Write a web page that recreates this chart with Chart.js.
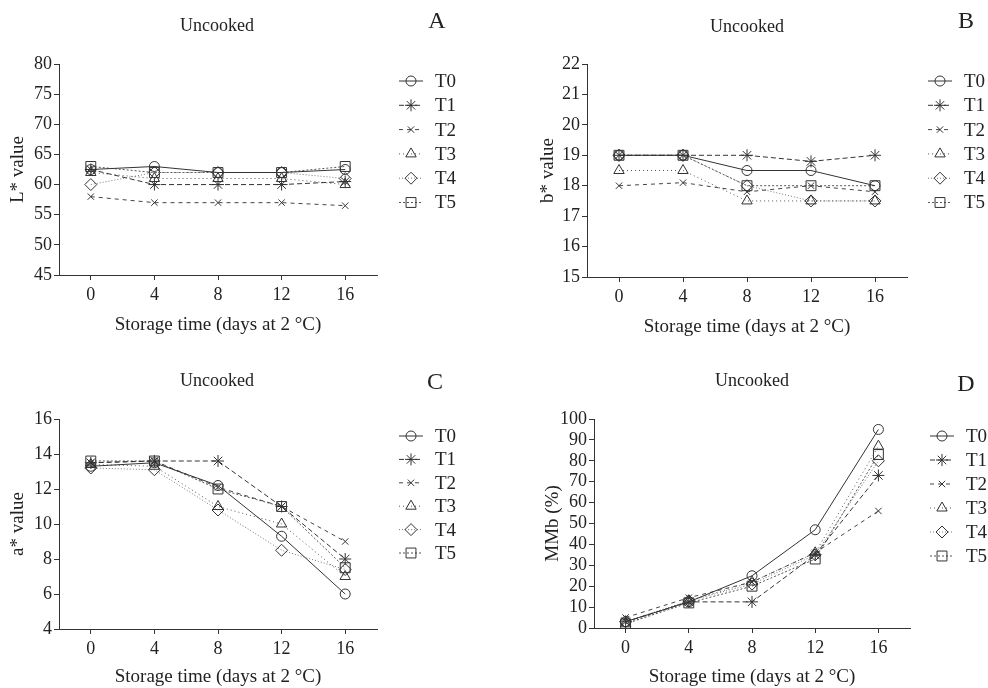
<!DOCTYPE html>
<html>
<head>
<meta charset="utf-8">
<script src="https://cdn.jsdelivr.net/npm/chart.js@4.4.1/dist/chart.umd.min.js"></script>
<style>
  body { margin: 0; background: #fff; }
  #wrap { position: relative; width: 988px; height: 688px; }
  canvas { position: absolute; }
</style>
</head>
<body>
<div id="wrap">
  <canvas id="cA" width="494" height="344" style="left:0;top:0"></canvas>
  <canvas id="cB" width="494" height="344" style="left:494px;top:0"></canvas>
  <canvas id="cC" width="494" height="344" style="left:0;top:344px"></canvas>
  <canvas id="cD" width="494" height="344" style="left:494px;top:344px"></canvas>
</div>
<script>
// storage days and tick labels
const days = [0, 4, 8, 12, 16];
const xTicks = [0, 4, 8, 12, 16];
const treatments = ['T0', 'T1', 'T2', 'T3', 'T4', 'T5'];

// one row per treatment (T0..T5), values at day 0, 4, 8, 12, 16
const lValues = [
  [62.5, 63, 62, 62, 62.5],
  [62.5, 60, 60, 60, 60.5],
  [58, 57, 57, 57, 56.5],
  [62, 61, 61, 61, 60],
  [60, 62, 62, 62, 61],
  [63, 62, 62, 62, 63]
];
const bValues = [
  [19, 19, 18.5, 18.5, 18],
  [19, 19, 19, 18.8, 19],
  [18, 18.1, 17.8, 18, 17.8],
  [18.5, 18.5, 17.5, 17.5, 17.5],
  [19, 19, 18, 17.5, 17.5],
  [19, 19, 18, 18, 18]
];
const aValues = [
  [13.3, 13.5, 12.2, 9.3, 6],
  [13.5, 13.6, 13.6, 11, 8],
  [13.5, 13.6, 12.1, 11, 9],
  [13.4, 13.3, 11, 10, 7],
  [13.2, 13.1, 10.8, 8.5, 7.4],
  [13.6, 13.6, 12, 11, 7.5]
];
const mmbValues = [
  [3, 12.5, 25, 47, 95],
  [3, 12.5, 12.5, 35, 73],
  [5, 14.5, 22, 36, 56],
  [2, 13, 22, 36, 87],
  [3, 13, 21, 35, 80],
  [2, 12, 20, 33, 83]
];

// line / marker look per treatment
const styles = [
  { pointStyle: 'circle', dash: [], color: '#333', r: 5 },
  { pointStyle: 'star', dash: [5, 3], color: '#333', r: 6 },
  { pointStyle: 'crossRot', dash: [4, 4], color: '#444', r: 4.5 },
  { pointStyle: 'triangle', dash: [1, 3], color: '#555', r: 6 },
  { pointStyle: 'rectRot', dash: [1, 2], color: '#777', r: 6 },
  { pointStyle: 'rect', dash: [2, 2], color: '#555', r: 7 }
];

Chart.defaults.font.family = '"Liberation Serif", "Times New Roman", serif';
Chart.defaults.font.size = 18;
Chart.defaults.color = '#222';

const decor = {
  id: 'decor',
  afterDraw(chart, args, o) {
    const ctx = chart.ctx;
    ctx.save();
    ctx.fillStyle = '#222';
    ctx.textAlign = 'center';
    ctx.textBaseline = 'middle';
    ctx.font = '18px "Liberation Serif"';
    ctx.fillText(o.title, o.titleX, o.titleY);
    ctx.font = '24px "Liberation Serif"';
    ctx.fillText(o.letter, o.letterX, o.letterY);
    ctx.font = '19px "Liberation Serif"';
    chart.data.datasets.forEach((ds, i) => {
      const y = o.legY + i * o.legGap;
      ctx.strokeStyle = ds.borderColor;
      ctx.lineWidth = 1;
      ctx.setLineDash(ds.borderDash);
      ctx.beginPath();
      ctx.moveTo(o.legX, y);
      ctx.lineTo(o.legX + 24, y);
      ctx.stroke();
      ctx.setLineDash([]);
      ctx.strokeStyle = '#333';
      ctx.fillStyle = 'rgba(0,0,0,0)';
      Chart.helpers.drawPoint(ctx, { pointStyle: ds.pointStyle, radius: ds.pointRadius, rotation: 0, borderWidth: 1 }, o.legX + 12, y);
      ctx.fillStyle = '#222';
      ctx.textAlign = 'left';
      ctx.fillText(ds.label, o.legX + 36, y + 1);
    });
    ctx.restore();
  }
};

function makeChart(id, values, cfg) {
  const datasets = values.map((vals, i) => ({
    label: treatments[i],
    data: days.map((d, j) => ({ x: d, y: vals[j] })),
    borderColor: styles[i].color,
    borderWidth: 1,
    borderDash: styles[i].dash,
    pointStyle: styles[i].pointStyle,
    pointRadius: styles[i].r,
    pointBorderColor: '#333',
    pointBorderWidth: 1,
    pointBackgroundColor: 'rgba(0,0,0,0)',
    fill: false,
    tension: 0
  }));

  return new Chart(id, {
    type: 'line',
    data: { datasets: datasets },
    plugins: [decor],
    options: {
      responsive: false,
      animation: false,
      layout: { padding: cfg.pad },
      scales: {
        x: {
          type: 'linear',
          min: -2,
          max: 18,
          afterBuildTicks: s => { s.ticks = xTicks.map(v => ({ value: v })); },
          afterFit: s => { s.height = cfg.xHeight; },
          grid: { drawOnChartArea: false, drawTicks: true, tickLength: 5, color: '#333' },
          border: { display: true, color: '#333' },
          ticks: { padding: 4, maxRotation: 0, autoSkip: false },
          title: { display: true, text: 'Storage time (days at 2 °C)', font: { size: 19 }, padding: { top: 0, bottom: 0 } }
        },
        y: {
          min: cfg.yMin,
          max: cfg.yMax,
          afterFit: s => { s.width = cfg.yWidth; },
          grid: { drawOnChartArea: false, drawTicks: true, tickLength: 5, color: '#333' },
          border: { display: true, color: '#333' },
          ticks: { stepSize: cfg.yStep, padding: 2, autoSkip: false },
          title: { display: true, text: cfg.yTitle, font: { size: 19 }, padding: { top: 7, bottom: 0 } }
        }
      },
      plugins: {
        legend: { display: false },
        tooltip: { enabled: false },
        decor: cfg.decor
      }
    }
  });
}

makeChart('cA', lValues, {
  yMin: 45, yMax: 80, yStep: 5, yTitle: 'L* value',
  pad: { left: 0, top: 64, right: 117, bottom: 8 }, yWidth: 59, xHeight: 61,
  decor: { title: 'Uncooked', titleX: 217, titleY: 26, letter: 'A', letterX: 437, letterY: 22, legX: 399, legY: 81, legGap: 24.3 }
});

makeChart('cB', bValues, {
  yMin: 15, yMax: 22, yStep: 1, yTitle: 'b* value',
  pad: { left: 36, top: 64, right: 81, bottom: 6 }, yWidth: 57, xHeight: 61,
  decor: { title: 'Uncooked', titleX: 253, titleY: 27, letter: 'B', letterX: 472, letterY: 22, legX: 434, legY: 81, legGap: 24.3 }
});

makeChart('cC', aValues, {
  yMin: 4, yMax: 16, yStep: 2, yTitle: 'a* value',
  pad: { left: 0, top: 75, right: 117, bottom: 0 }, yWidth: 59, xHeight: 59,
  decor: { title: 'Uncooked', titleX: 217, titleY: 37, letter: 'C', letterX: 435, letterY: 39, legX: 399, legY: 92, legGap: 23.4 }
});

makeChart('cD', mmbValues, {
  yMin: 0, yMax: 100, yStep: 10, yTitle: 'MMb (%)',
  pad: { left: 41, top: 75, right: 78, bottom: 0 }, yWidth: 59, xHeight: 60,
  decor: { title: 'Uncooked', titleX: 258, titleY: 37, letter: 'D', letterX: 472, letterY: 41, legX: 436, legY: 92, legGap: 24 }
});
</script>
</body>
</html>
